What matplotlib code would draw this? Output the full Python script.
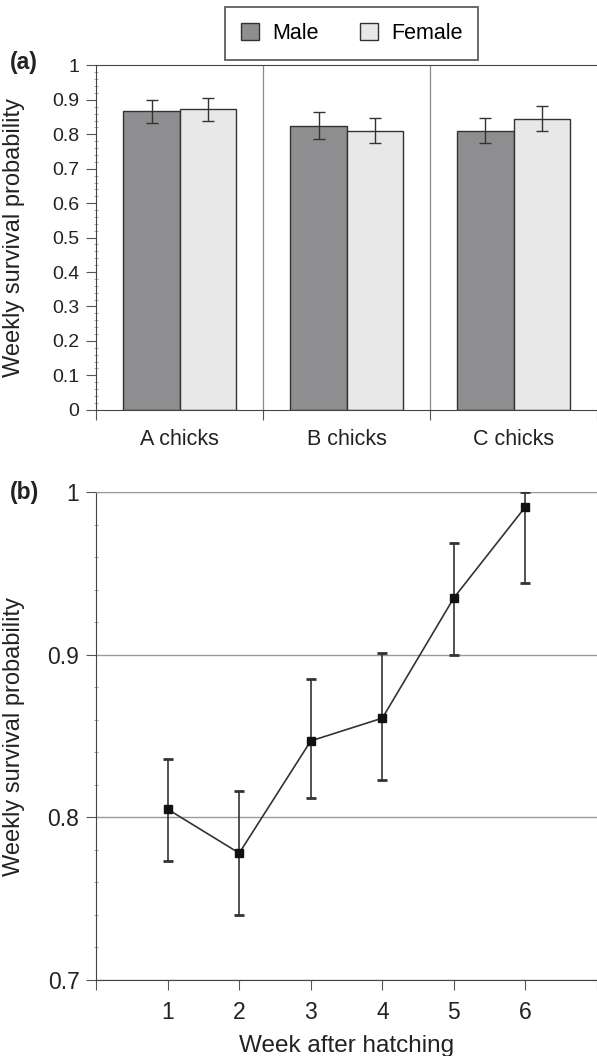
import numpy as np
import matplotlib.pyplot as plt
from matplotlib.patches import Patch

plt.rcParams['font.family'] = ['Liberation Sans', 'DejaVu Sans']

# panel (a): weekly survival by chick rank and sex
groups = ['A chicks', 'B chicks', 'C chicks']
male = [0.868, 0.825, 0.810]
male_lo = [0.832, 0.785, 0.774]
male_hi = [0.901, 0.864, 0.848]
female = [0.873, 0.810, 0.845]
female_lo = [0.838, 0.774, 0.810]
female_hi = [0.905, 0.846, 0.881]

# panel (b): survival by week after hatching
weeks = [1, 2, 3, 4, 5, 6]
surv = [0.805, 0.778, 0.847, 0.861, 0.935, 0.991]
surv_lo = [0.773, 0.740, 0.812, 0.823, 0.900, 0.944]
surv_hi = [0.836, 0.816, 0.885, 0.901, 0.969, 1.000]

fig = plt.figure(figsize=(5.97, 10.56), dpi=100)
txt = '#222222'

# ---------- (a) ----------
ax = fig.add_axes([0.161, 0.612, 0.839, 0.326])
x = np.arange(len(groups))
w = 0.336
m = np.array(male); f = np.array(female)
ax.bar(x - w/2, m, w, color='#8e8e90', edgecolor='#333333', linewidth=1.0, zorder=2)
ax.bar(x + w/2, f, w, color='#e8e8e8', edgecolor='#333333', linewidth=1.0, zorder=2)
ax.errorbar(x - w/2, m, yerr=[m - np.array(male_lo), np.array(male_hi) - m],
            fmt='none', ecolor='#333333', elinewidth=1.0, capsize=4, capthick=1.0, zorder=3)
ax.errorbar(x + w/2, f, yerr=[f - np.array(female_lo), np.array(female_hi) - f],
            fmt='none', ecolor='#333333', elinewidth=1.0, capsize=4, capthick=1.0, zorder=3)
for sep in [0.5, 1.5]:
    ax.axvline(sep, color='#888888', linewidth=0.9, zorder=1)
ax.set_xlim(-0.5, 2.5)
ax.set_ylim(0, 1)
ax.set_yticks(np.arange(0, 1.01, 0.1))
ax.set_yticklabels(['0', '0.1', '0.2', '0.3', '0.4', '0.5', '0.6', '0.7', '0.8', '0.9', '1'])
ax.set_yticks(np.arange(0, 1.001, 0.02), minor=True)
ax.set_xticks([-0.5, 0.5, 1.5, 2.5])
ax.set_xticklabels([])
ax.set_xticks(x, minor=True)
ax.set_xticklabels(groups, minor=True, fontsize=15.5, color=txt)
ax.tick_params(axis='x', which='minor', length=0, pad=14)
ax.tick_params(axis='x', which='major', length=7, color='#555555')
ax.tick_params(axis='y', which='major', length=7, pad=5, labelsize=14, labelcolor=txt, color='#555555')
ax.tick_params(axis='y', which='minor', length=3, direction='inout', color='#999999')
ax.spines['right'].set_visible(False)
for s in ['left', 'bottom', 'top']:
    ax.spines[s].set_color('#444444')
ax.set_ylabel('Weekly survival probability', fontsize=17, color=txt)
ax.yaxis.set_label_coords(-0.142, 0.5)
handles = [Patch(facecolor='#8e8e90', edgecolor='#333333', label='Male'),
           Patch(facecolor='#e8e8e8', edgecolor='#333333', label='Female')]
leg = fig.legend(handles=handles, loc='center', bbox_to_anchor=(0.589, 0.968), ncol=2,
                 fontsize=15.5, frameon=True, fancybox=False, edgecolor='#444444',
                 handlelength=0.85, handleheight=0.85, handletextpad=0.6,
                 columnspacing=1.9, borderpad=0.75)
leg.get_frame().set_linewidth(1.4)
fig.text(0.017, 0.935, '(a)', fontsize=16.5, fontweight='bold', color=txt, va='baseline')

# ---------- (b) ----------
bx = fig.add_axes([0.161, 0.072, 0.839, 0.462])
s = np.array(surv)
bx.errorbar(weeks, s, yerr=[s - np.array(surv_lo), np.array(surv_hi) - s],
            fmt='none', ecolor='#333333', elinewidth=1.2, capsize=3.5, capthick=2, zorder=3)
bx.plot(weeks, s, color='#333333', linewidth=1.2, marker='s', markersize=6,
        markerfacecolor='#111111', markeredgecolor='#111111', zorder=4)
bx.set_xlim(0, 7)
bx.set_ylim(0.7, 1.0)
bx.set_xticks([0, 1, 2, 3, 4, 5, 6, 7])
bx.set_xticklabels(['', '1', '2', '3', '4', '5', '6', ''])
bx.set_yticks([0.7, 0.8, 0.9, 1.0])
bx.set_yticklabels(['0.7', '0.8', '0.9', '1'])
bx.set_yticks(np.arange(0.7, 1.001, 0.02), minor=True)
bx.yaxis.grid(True, which='major', color='#999999', linewidth=1.0)
bx.set_axisbelow(True)
bx.tick_params(axis='both', which='major', length=7, labelsize=16.5, labelcolor=txt, color='#555555')
bx.tick_params(axis='y', which='major', pad=5)
bx.tick_params(axis='x', which='major', pad=8)
bx.tick_params(axis='y', which='minor', length=3, direction='inout', color='#999999')
bx.spines['right'].set_visible(False)
bx.spines['top'].set_color('#999999')
for sp in ['left', 'bottom']:
    bx.spines[sp].set_color('#444444')
bx.set_ylabel('Weekly survival probability', fontsize=17, color=txt)
bx.yaxis.set_label_coords(-0.142, 0.5)
bx.set_xlabel('Week after hatching', fontsize=17.5, color=txt, labelpad=8)
fig.text(0.017, 0.527, '(b)', fontsize=16.5, fontweight='bold', color=txt, va='baseline')

fig.savefig('out.png', dpi=100)
